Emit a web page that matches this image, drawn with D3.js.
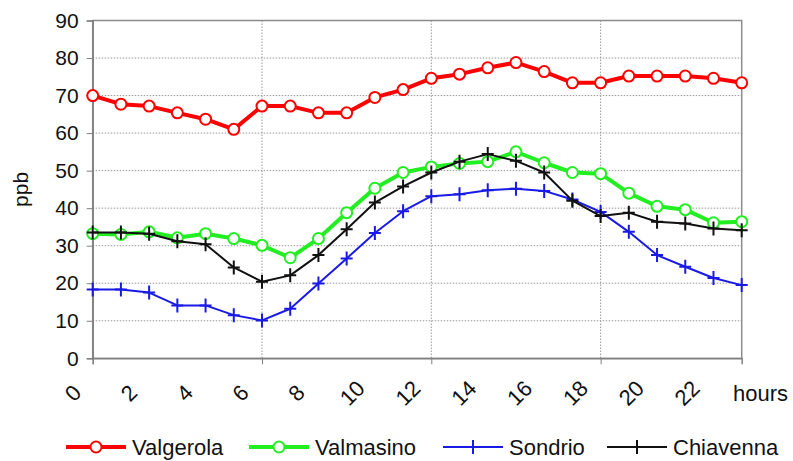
<!DOCTYPE html>
<html>
<head>
<meta charset="utf-8">
<script src="https://cdn.jsdelivr.net/npm/d3@7"></script>
<style>
  body { margin: 0; background: #fff; }
  svg { display: block; font-family: "Liberation Sans", Arial, sans-serif; }
</style>
</head>
<body>
<svg id="chart" width="793" height="461"></svg>
<script>
// hourly ozone (ppb), index 0..23
var hours = d3.range(24);
var tickLabels = ['0', '2', '4', '6', '8', '10', '12', '14', '16', '18', '20', '22'];
var yTicks = [0, 10, 20, 30, 40, 50, 60, 70, 80, 90];

var valgerola = [70, 67.7, 67.2, 65.4, 63.7, 61, 67.2, 67.2, 65.4, 65.4, 69.5, 71.6,
  74.6, 75.7, 77.4, 78.8, 76.4, 73.4, 73.4, 75.2, 75.2, 75.2, 74.6, 73.4];
var valmasino = [33.2, 33, 33.7, 32.1, 33.2, 31.9, 30.1, 26.8, 31.9, 38.8, 45.3, 49.5,
  51, 51.9, 52.4, 55, 52.1, 49.5, 49.2, 44, 40.5, 39.6, 36.1, 36.4];
var sondrio = [18.3, 18.3, 17.5, 14.1, 14.1, 11.5, 10.1, 13.2, 19.9, 26.6, 33.4, 39.2,
  43.2, 43.7, 44.8, 45.2, 44.6, 42.3, 39, 33.7, 27.5, 24.4, 21.4, 19.5];
var chiavenna = [33.5, 33.5, 33.2, 31.2, 30.4, 24.2, 20.4, 22.1, 27.5, 34.4, 41.5, 45.8,
  49.5, 52.4, 54.4, 52.6, 49.5, 42, 37.9, 38.8, 36.4, 35.9, 34.6, 34.1];

var series = [
  { name: 'Valgerola', values: valgerola, color: '#ff0000', width: 4, marker: 'circle' },
  { name: 'Valmasino', values: valmasino, color: '#22ee22', width: 4, marker: 'circle' },
  { name: 'Sondrio', values: sondrio, color: '#1a1ae6', width: 2, marker: 'cross' },
  { name: 'Chiavenna', values: chiavenna, color: '#111111', width: 2, marker: 'cross' }
];

var svg = d3.select('#chart');
var plotL = 92.7, plotR = 741.7, plotT = 20.5, plotB = 358.3;

var x = d3.scaleLinear().domain([0, 23]).range([plotL, plotR]);
var y = d3.scaleLinear().domain([0, 90]).range([plotB, plotT]);
var xl = d3.scalePoint().domain(tickLabels).range([73, 687]);

// gridlines
svg.append('g').selectAll('line').data(yTicks.filter(d => d > 0 && d < 90)).join('line')
  .attr('x1', plotL).attr('x2', plotR)
  .attr('y1', d => y(d)).attr('y2', d => y(d))
  .attr('stroke', '#999').attr('stroke-dasharray', '1.5,1.5');
svg.append('g').selectAll('line').data([6, 12, 18]).join('line')
  .attr('x1', d => x(d)).attr('x2', d => x(d))
  .attr('y1', plotT).attr('y2', plotB)
  .attr('stroke', '#999').attr('stroke-dasharray', '1.5,1.5');

// frame
svg.append('rect').attr('x', plotL).attr('y', plotT)
  .attr('width', plotR - plotL).attr('height', plotB - plotT)
  .attr('fill', 'none').attr('stroke', '#8c8c8c').attr('stroke-width', 1.5);

// y axis
var yAxis = d3.axisLeft(y).tickValues(yTicks).tickSize(6).tickPadding(8);
var gy = svg.append('g').attr('transform', 'translate(' + plotL + ',0)').call(yAxis);
gy.select('.domain').attr('stroke', '#808080').attr('stroke-width', 1.5);
gy.selectAll('.tick line').attr('stroke', '#808080');
gy.selectAll('.tick text').attr('font-size', 21).attr('fill', '#111')
  .attr('font-family', '"Liberation Sans", Arial, sans-serif');

// x axis ticks every 6 hours
var xAxis = d3.axisBottom(x).tickValues([0, 6, 12, 18]).tickSize(6).tickFormat('');
var gx = svg.append('g').attr('transform', 'translate(0,' + plotB + ')').call(xAxis);
gx.select('.domain').attr('stroke', '#808080').attr('stroke-width', 1.5);
gx.selectAll('.tick line').attr('stroke', '#808080');

// rotated hour labels
svg.append('g').selectAll('text').data(tickLabels).join('text')
  .attr('transform', d => 'translate(' + xl(d) + ',393) rotate(-45)')
  .attr('text-anchor', 'middle').attr('dy', '0.35em')
  .attr('font-size', 22).attr('fill', '#111').text(d => d);
svg.append('text').attr('x', 733).attr('y', 393).attr('dy', '0.35em')
  .attr('font-size', 22).attr('fill', '#111').text('hours');

svg.append('text').attr('transform', 'translate(21,' + ((plotT + plotB) / 2) + ') rotate(-90)')
  .attr('text-anchor', 'middle').attr('dy', '0.35em')
  .attr('font-size', 21).attr('fill', '#111').text('ppb');

// lines + markers
var line = d3.line().x((d, i) => x(hours[i])).y(d => y(d));

function drawMarker(g, s, cx, cy) {
  if (s.marker === 'circle') {
    g.append('circle').attr('cx', cx).attr('cy', cy).attr('r', 5.5)
      .attr('fill', '#fff').attr('stroke', s.color).attr('stroke-width', 2);
  } else {
    g.append('path')
      .attr('d', 'M' + (cx - 6) + ',' + cy + 'H' + (cx + 6) + 'M' + cx + ',' + (cy - 7) + 'V' + (cy + 7))
      .attr('stroke', s.color).attr('stroke-width', 2);
  }
}

series.forEach(function (s) {
  var g = svg.append('g');
  g.append('path').datum(s.values).attr('d', line)
    .attr('fill', 'none').attr('stroke', s.color).attr('stroke-width', s.width)
    .attr('stroke-linejoin', 'round');
  s.values.forEach(function (v, i) { drawMarker(g, s, x(hours[i]), y(v)); });
});

// legend
var legendX = [66, 249, 443, 607];
var lg = svg.append('g');
series.forEach(function (s, i) {
  var lx = legendX[i], ly = 447;
  lg.append('line').attr('x1', lx).attr('x2', lx + 60).attr('y1', ly).attr('y2', ly)
    .attr('stroke', s.color).attr('stroke-width', s.width);
  drawMarker(lg, s, lx + 30, ly);
  lg.append('text').attr('x', lx + 66).attr('y', ly).attr('dy', '0.35em')
    .attr('font-size', 22).attr('fill', '#111').text(s.name);
});
</script>
</body>
</html>
